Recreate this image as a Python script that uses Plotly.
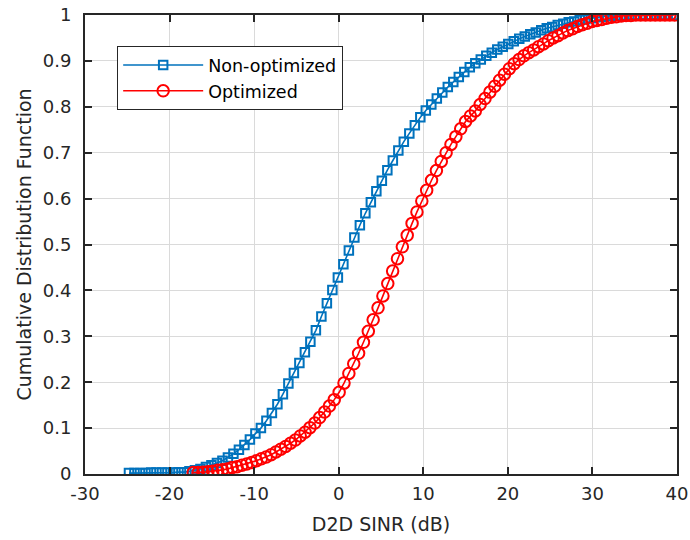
import plotly.graph_objects as go

# D2D SINR sample points (dB) and empirical CDF values
sinr_nonopt = [-24.8, -24.15, -23.5, -22.85, -22.2, -21.55, -20.9, -20.25, -19.6, -18.95,
               -18.3, -17.65, -17.0, -16.35, -15.7, -15.05, -14.4, -13.75, -13.1, -12.45,
               -11.8, -11.15, -10.5, -9.85, -9.2, -8.55, -7.9, -7.25, -6.6, -5.95,
               -5.3, -4.65, -4.0, -3.35, -2.7, -2.05, -1.4, -0.75, -0.1, 0.55,
               1.2, 1.85, 2.5, 3.15, 3.8, 4.45, 5.1, 5.75, 6.4, 7.05,
               7.7, 8.35, 9.0, 9.65, 10.3, 10.95, 11.6, 12.25, 12.9, 13.55,
               14.2, 14.85, 15.5, 16.15, 16.8, 17.45, 18.1, 18.75, 19.4, 20.05,
               20.7, 21.35, 22.0, 22.65, 23.3, 23.95, 24.6, 25.25, 25.9, 26.55,
               27.2, 27.85, 28.5, 29.15, 29.8, 30.45, 31.1, 31.75, 32.4, 33.05,
               33.7, 34.35, 35.0, 35.65, 36.3, 36.95, 37.6, 38.25, 38.9, 39.55]
cdf_nonopt = [0.002, 0.002, 0.002, 0.002, 0.003, 0.003, 0.003, 0.003, 0.003, 0.004,
              0.004, 0.006, 0.008, 0.011, 0.015, 0.019, 0.024, 0.029, 0.036, 0.044,
              0.053, 0.063, 0.075, 0.088, 0.100, 0.116, 0.133, 0.152, 0.174, 0.197,
              0.220, 0.242, 0.265, 0.288, 0.313, 0.343, 0.372, 0.401, 0.428, 0.457,
              0.487, 0.515, 0.542, 0.568, 0.592, 0.616, 0.639, 0.662, 0.683, 0.705,
              0.724, 0.742, 0.760, 0.777, 0.792, 0.805, 0.818, 0.831, 0.843, 0.854,
              0.865, 0.876, 0.886, 0.895, 0.903, 0.911, 0.918, 0.925, 0.931, 0.937,
              0.943, 0.948, 0.953, 0.958, 0.962, 0.967, 0.971, 0.974, 0.978, 0.981,
              0.984, 0.986, 0.989, 0.991, 0.993, 0.995, 0.996, 0.998, 0.998, 0.999,
              0.999, 1.0, 1.0, 1.0, 1.0, 1.0, 1.0, 1.0, 1.0, 1.0]

sinr_opt = [-17.2, -16.625, -16.05, -15.475, -14.9, -14.325, -13.75, -13.175, -12.6, -12.025,
            -11.45, -10.875, -10.3, -9.725, -9.15, -8.575, -8.0, -7.425, -6.85, -6.275,
            -5.7, -5.125, -4.55, -3.975, -3.4, -2.825, -2.25, -1.675, -1.1, -0.525,
            0.05, 0.625, 1.2, 1.775, 2.35, 2.925, 3.5, 4.075, 4.65, 5.225,
            5.8, 6.375, 6.95, 7.525, 8.1, 8.675, 9.25, 9.825, 10.4, 10.975,
            11.55, 12.125, 12.7, 13.275, 13.85, 14.425, 15.0, 15.575, 16.15, 16.725,
            17.3, 17.875, 18.45, 19.025, 19.6, 20.175, 20.75, 21.325, 21.9, 22.475,
            23.05, 23.625, 24.2, 24.775, 25.35, 25.925, 26.5, 27.075, 27.65, 28.225,
            28.8, 29.375, 29.95, 30.525, 31.1, 31.675, 32.25, 32.825, 33.4, 33.975,
            34.55, 35.125, 35.7, 36.275, 36.85, 37.425, 38.0, 38.575, 39.15, 39.725]
cdf_opt = [0.003, 0.003, 0.004, 0.005, 0.006, 0.008, 0.009, 0.011, 0.014, 0.016,
           0.019, 0.022, 0.025, 0.029, 0.033, 0.037, 0.042, 0.048, 0.054, 0.060,
           0.067, 0.074, 0.083, 0.091, 0.101, 0.111, 0.123, 0.135, 0.148, 0.162,
           0.178, 0.198, 0.219, 0.240, 0.263, 0.287, 0.311, 0.336, 0.362, 0.388,
           0.415, 0.442, 0.469, 0.495, 0.520, 0.546, 0.571, 0.595, 0.618, 0.640,
           0.661, 0.681, 0.700, 0.718, 0.735, 0.752, 0.768, 0.780, 0.791, 0.805,
           0.818, 0.832, 0.845, 0.858, 0.871, 0.883, 0.894, 0.903, 0.911, 0.918,
           0.924, 0.931, 0.937, 0.944, 0.950, 0.955, 0.961, 0.966, 0.970, 0.975,
           0.979, 0.982, 0.986, 0.988, 0.990, 0.993, 0.995, 0.996, 0.998, 0.999,
           0.999, 1.0, 1.0, 1.0, 1.0, 1.0, 1.0, 1.0, 1.0, 1.0]

x_ticks = [-30, -20, -10, 0, 10, 20, 30, 40]
x_tick_text = ["-30", "-20", "-10", "0", "10", "20", "30", "40"]
y_ticks = [0, 0.1, 0.2, 0.3, 0.4, 0.5, 0.6, 0.7, 0.8, 0.9, 1]
y_tick_text = ["0", "0.1", "0.2", "0.3", "0.4", "0.5", "0.6", "0.7", "0.8", "0.9", "1"]

BLUE = "#0072BD"
RED = "#FF0000"
INK = "#262626"
FONT = "DejaVu Sans, Liberation Sans, Arial, sans-serif"

fig = go.Figure()
fig.add_trace(go.Scatter(
    x=sinr_nonopt, y=cdf_nonopt, mode="lines+markers", name="Non-optimized",
    line=dict(color=BLUE, width=1.6),
    marker=dict(symbol="square-open", size=8.5, color=BLUE, line=dict(width=2, color=BLUE)),
))
fig.add_trace(go.Scatter(
    x=sinr_opt, y=cdf_opt, mode="lines+markers", name="Optimized",
    line=dict(color=RED, width=1.6),
    marker=dict(symbol="circle-open", size=11.5, color=RED, line=dict(width=2, color=RED)),
))

axis_common = dict(
    showline=True, linecolor=INK, linewidth=1.8, mirror="ticks",
    ticks="inside", ticklen=7, tickwidth=1.8, tickcolor=INK,
    showgrid=True, gridcolor="#DADADA", gridwidth=1.3,
    zeroline=False, automargin=False,
    tickfont=dict(family=FONT, size=18, color=INK),
)

fig.update_xaxes(
    range=[-30, 40], tickvals=x_ticks, ticktext=x_tick_text, ticklabelstandoff=2,
    title=dict(text="D2D SINR (dB)", font=dict(family=FONT, size=19, color=INK)),
    **axis_common,
)
fig.update_yaxes(
    range=[0, 1], tickvals=y_ticks, ticktext=y_tick_text, ticklabelstandoff=8,
    title=dict(text="Cumulative Distribution Function", font=dict(family=FONT, size=19, color=INK),
               standoff=6),
    **axis_common,
)

fig.update_layout(
    width=690, height=540,
    margin=dict(l=85, r=13, t=15, b=66),
    paper_bgcolor="white", plot_bgcolor="white",
    showlegend=True,
    legend=dict(
        x=0.054, y=0.9325, xanchor="left", yanchor="top",
        bgcolor="white", bordercolor=INK, borderwidth=1.2,
        font=dict(family=FONT, size=17.5, color="black"),
        itemwidth=80, tracegroupgap=0,
    ),
)

fig.write_html("out.html")
